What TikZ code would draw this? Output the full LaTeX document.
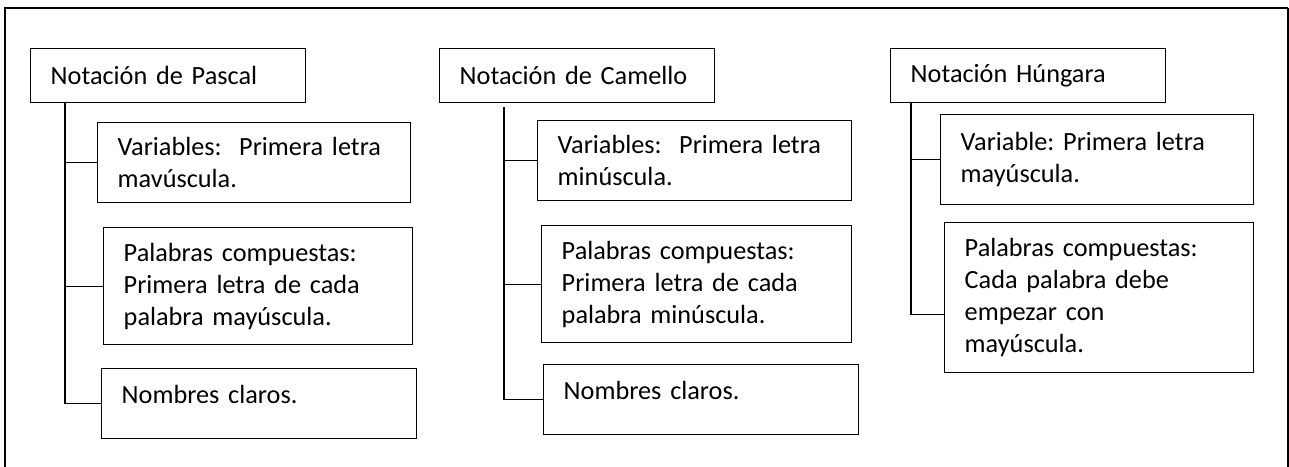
\documentclass[tikz,border=0pt]{standalone}
\usepackage{fontspec}
\setmainfont{Carlito}
\usetikzlibrary{calc}
\frenchspacing

\begin{document}
\begin{tikzpicture}[x=0.75pt,y=-0.75pt,line width=1.1pt,
	caja/.style={draw, anchor=north west, align=left, inner xsep=15pt, inner ysep=0pt,
		font=\fontsize{19.7}{24}\selectfont},
	titulo/.style={caja, text width=176.25pt, minimum height=40.5pt}]

	\clip (0,0) rectangle (1289,467);
	\fill[white] (0,0) rectangle (1289,467);

	% marco
	\draw[line width=1.9pt] (5,480) -- (5,8) -- (1288,8);
	\draw[line width=0.8pt] (1288,8) -- (1288,480);

	% Pascal
	\node[titulo] (t1) at (30,48) {Notación de Pascal};
	\node[caja, text width=204.75pt, minimum height=60pt] (p1) at (97,122)
		{Variables:\ \ Primera letra\\ mavúscula.};
	\node[caja, text width=201.75pt, minimum height=87.75pt] (p2) at (103,227)
		{Palabras compuestas:\\ Primera letra de cada\\ palabra mayúscula.};
	\node[caja, text width=206.25pt, minimum height=52.5pt] (p3) at (101,368)
		{Nombres claros.\\[-10pt] \mbox{}};

	\coordinate (pt) at ($(t1.south west)+(35,0)$);
	\draw (pt) |- (p3.west);
	\draw (pt |- p1.west) -- (p1.west);
	\draw (pt |- p2.west) -- (p2.west);

	% Camello
	\node[titulo] (t2) at (439,48) {Notación de Camello};
	\node[caja, text width=205.5pt, minimum height=60pt] (c1) at (537,120)
		{Variables:\ \ Primera letra\\ minúscula.};
	\node[caja, text width=202.5pt, minimum height=87.75pt] (c2) at (541,225)
		{Palabras compuestas:\\ Primera letra de cada\\ palabra minúscula.};
	\node[caja, text width=206.25pt, minimum height=52.5pt] (c3) at (543,364)
		{Nombres claros.\\[-10pt] \mbox{}};

	\coordinate (ct) at ($(t2.south west)+(65,4)$);
	\draw (ct) |- (c3.west);
	\draw (ct |- c1.west) -- (c1.west);
	\draw (ct |- c2.west) -- (c2.west);

	% Hungara
	\node[titulo] (t3) at (890,48) {Notación Húngara};
	\node[caja, text width=204.75pt, minimum height=67.5pt] (h1) at (940,114)
		{Variable: Primera letra\\ mayúscula.};
	\node[caja, text width=201.75pt, minimum height=112.5pt] (h2) at (944,222)
		{Palabras compuestas:\\ Cada palabra debe\\ empezar con\\ mayúscula.};

	\coordinate (ht) at ($(t3.south west)+(21,0)$);
	\draw (ht) |- ($(h2.west)+(0,17)$);
	\draw (ht |- h1.west) -- (h1.west);

\end{tikzpicture}
\end{document}
